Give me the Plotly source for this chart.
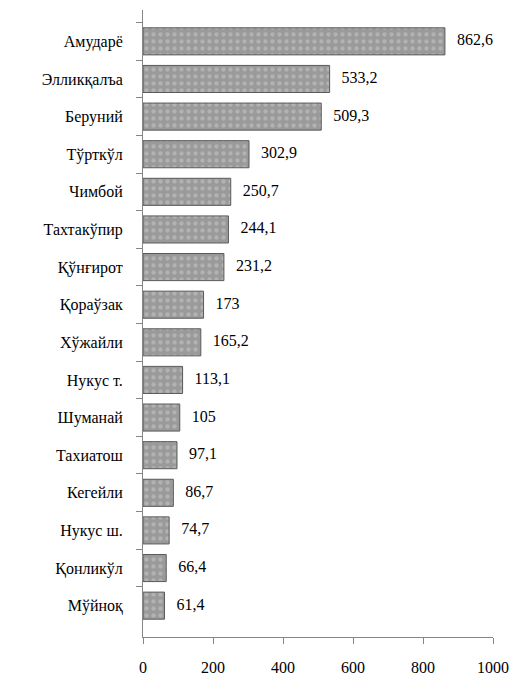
import plotly.graph_objects as go

districts = ["Амударё", "Элликқалъа", "Беруний", "Тўрткўл", "Чимбой", "Тахтакўпир",
             "Қўнғирот", "Қораўзак", "Хўжайли", "Нукус т.", "Шуманай", "Тахиатош",
             "Кегейли", "Нукус ш.", "Қонликўл", "Мўйноқ"]
values = [862.6, 533.2, 509.3, 302.9, 250.7, 244.1, 231.2, 173, 165.2, 113.1, 105, 97.1,
          86.7, 74.7, 66.4, 61.4]
x_ticks = [0, 200, 400, 600, 800, 1000]

labels = ["\u00a0\u00a0\u00a0" + f"{v:g}".replace(".", ",") for v in values]

FONT = "'Liberation Serif', 'Times New Roman', 'DejaVu Serif', serif"

fig = go.Figure()
fig.add_trace(go.Bar(
    x=values, y=districts, orientation="h",
    marker=dict(color="#a2a2a2", line=dict(color="#5a5a5a", width=1),
                pattern=dict(shape=".", fgcolor="#cacaca", bgcolor="#9a9a9a",
                             size=7, solidity=0.3)),
    hoverinfo="x+y",
))
fig.add_trace(go.Scatter(
    x=values, y=districts, mode="text", text=labels, textposition="middle right",
    textfont=dict(family=FONT, size=16, color="black"), cliponaxis=False,
    hoverinfo="skip",
))

fig.update_layout(
    width=516, height=679,
    margin=dict(l=143, r=23, t=10, b=42),
    plot_bgcolor="white", paper_bgcolor="white",
    showlegend=False, bargap=0.28,
    font=dict(family=FONT, size=16, color="black"),
)
fig.update_xaxes(range=[0, 1000], tickvals=x_ticks, ticktext=[str(t) for t in x_ticks],
                 showgrid=False, zeroline=False, showline=True, linecolor="#868686",
                 ticks="outside", ticklen=6, tickcolor="#868686", automargin=False,
                 ticklabelstandoff=10, tickfont=dict(family=FONT, size=16))
fig.update_yaxes(autorange="reversed", showgrid=False, showline=True, linecolor="#868686",
                 ticks="outside", ticklen=6, tickcolor="#868686", tickson="boundaries",
                 automargin=False,
                 ticklabelstandoff=16, tickfont=dict(family=FONT, size=16))

fig.write_html("out.html", config={"displayModeBar": False},
               post_script="document.body.style.margin='0';")
